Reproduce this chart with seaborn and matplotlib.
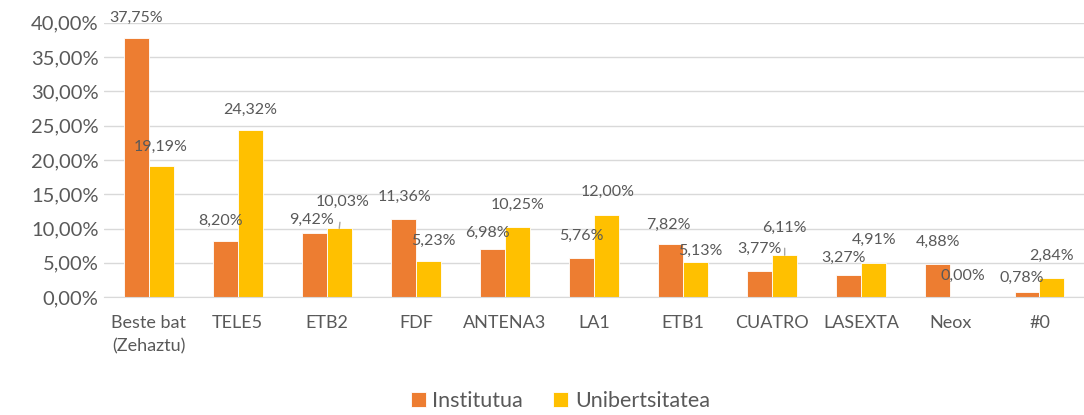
import matplotlib
matplotlib.use("Agg")
import matplotlib.pyplot as plt
import seaborn as sns
import pandas as pd

categories = ["Beste bat\n(Zehaztu)", "TELE5", "ETB2", "FDF", "ANTENA3", "LA1",
              "ETB1", "CUATRO", "LASEXTA", "Neox", "#0"]
institutua = [37.75, 8.20, 9.42, 11.36, 6.98, 5.76, 7.82, 3.77, 3.27, 4.88, 0.78]
unibertsitatea = [19.19, 24.32, 10.03, 5.23, 10.25, 12.00, 5.13, 6.11, 4.91, 0.00, 2.84]
series_names = ["Institutua", "Unibertsitatea"]
colors = ["#ED7D31", "#FFC000"]

# label offsets (pixels) relative to bar top, as placed in the original
offs_inst = [(0, 20), (-5, 20), (-3, 13), (1, 22), (-5, 16), (0, 22), (-2, 19),
             (0, 22), (-5, 17), (0, 22), (-5, 14)]
offs_uni = [(0, 19), (0, 20), (3, 26), (5, 20), (0, 22), (1, 23), (5, 11),
            (0, 27), (0, 24), (0, 21), (0, 22)]
leader = [2, 7]  # yellow labels with leader lines

df = pd.DataFrame({
    "cat": categories * 2,
    "val": institutua + unibertsitatea,
    "serie": [series_names[0]] * len(categories) + [series_names[1]] * len(categories),
})

sns.set_style("white")
plt.rcParams["font.family"] = ["Lato", "DejaVu Sans"]
txt = "#595959"

fig = plt.figure(figsize=(10.84, 4.15), dpi=100)
ax = fig.add_axes([0.096, 0.284, 0.904, 0.661])

sns.barplot(data=df, x="cat", y="val", hue="serie", palette=colors,
            width=0.56, gap=0, saturation=1, ax=ax, legend=True, zorder=2,
            edgecolor="white", linewidth=0.6)

ax.set_ylim(0, 40)
ax.set_xlim(-0.5, len(categories) - 0.5)
ax.set_yticks(range(0, 41, 5))
ax.set_yticklabels([f"{v:.2f}%".replace(".", ",") for v in range(0, 41, 5)],
                   fontsize=14.5, color=txt)
ax.tick_params(axis="x", labelsize=13, labelcolor=txt, pad=13, length=0)
for t in ax.get_xticklabels():
    t.set_linespacing(1.55)
ax.tick_params(axis="y", length=0, pad=4)
ax.set_xlabel("")
ax.set_ylabel("")
ax.grid(axis="y", color="#D9D9D9", linewidth=1, zorder=0)
ax.set_axisbelow(True)
for s in ["top", "right", "left"]:
    ax.spines[s].set_visible(False)
ax.spines["bottom"].set_color("#D9D9D9")

px = 0.72  # pixels -> points at dpi 100
for ci, (cont, vals, offs) in enumerate(zip(ax.containers, [institutua, unibertsitatea],
                                           [offs_inst, offs_uni])):
    for i, (bar, v) in enumerate(zip(cont, vals)):
        xc = bar.get_x() + bar.get_width() / 2
        dx, dy = offs[i]
        label = f"{v:.2f}%".replace(".", ",")
        if ci == 1 and i in leader:
            ax.annotate(label, (xc, v), xytext=(dx * px, dy * px), textcoords="offset points",
                        ha="center", va="center", fontsize=11.5, color=txt,
                        arrowprops=dict(arrowstyle="-", color="#A6A6A6", lw=1,
                                        shrinkA=7, shrinkB=0))
        else:
            ax.annotate(label, (xc, v), xytext=(dx * px, dy * px), textcoords="offset points",
                        ha="center", va="center", fontsize=11.5, color=txt)

handles, labels = ax.get_legend_handles_labels()
ax.legend_.remove()
fig.legend(handles, labels, loc="center", bbox_to_anchor=(0.517, 0.034), ncol=2,
           frameon=False, fontsize=15.5, handlelength=0.7, handleheight=0.7,
           handletextpad=0.3, columnspacing=1.4, labelcolor=txt)

fig.savefig("out.png", dpi=100)
